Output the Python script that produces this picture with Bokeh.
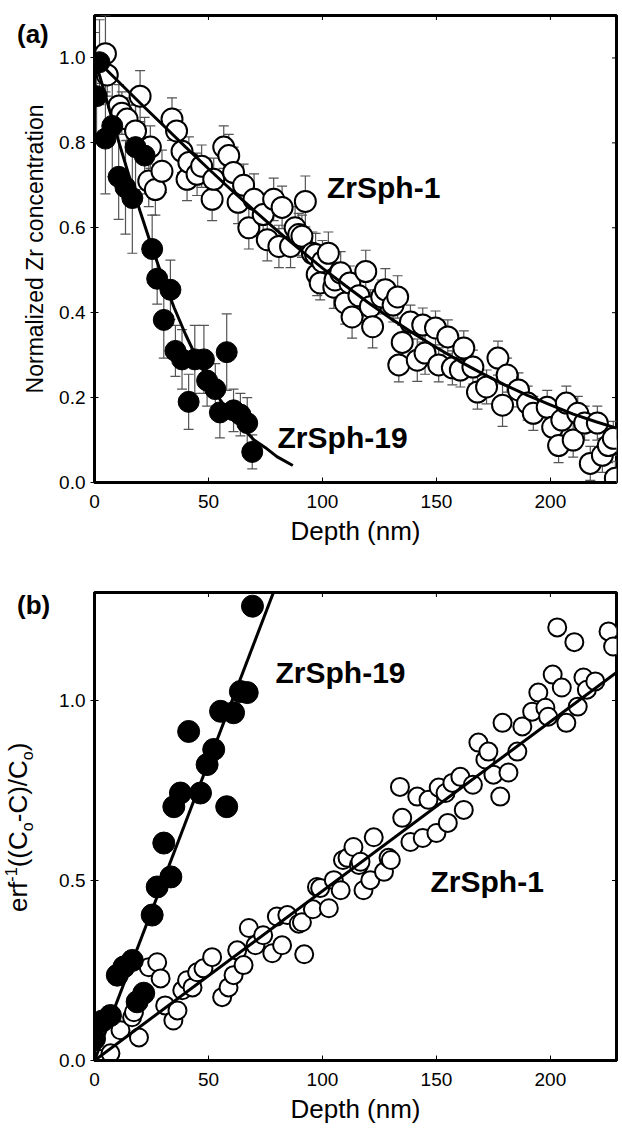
import math
from bokeh.plotting import figure
from bokeh.layouts import column
from bokeh.models import (ColumnDataSource, Whisker, TeeHead, Label, Div,
                          Range1d, FixedTicker, NumeralTickFormatter)
from bokeh.embed import file_html
from bokeh.resources import INLINE

# ---------------- Panel (a): normalized Zr concentration vs depth ----------------
a1_depth = [0, 4.8, 5.6, 10.7, 12, 14.3, 18, 20, 23.8, 24.5,
            26.7, 29.6, 34, 36, 38.4, 40.6, 41.4, 45, 47, 51.6,
            52.3, 56.7, 58.9, 61, 63, 65.4, 67.7, 70, 74, 75.8,
            78.6, 80.9, 82.3, 86, 88, 89.6, 91, 92.5, 95.6, 97,
            97.7, 99, 100, 102.6, 105, 105.5, 108, 110, 112, 113,
            116, 119, 121, 122, 126, 127.6, 131, 133, 133.5, 135,
            138.6, 141.6, 144, 145, 149.6, 151, 155, 157, 160.5, 162,
            166, 168, 172, 177, 179, 181, 186, 190, 192.5, 198.6,
            201, 203.6, 205, 207, 210, 212, 215, 217.5, 220.6, 222.8,
            225.4, 227.6, 228.5]
a1_conc = [1.00, 1.01, 0.96, 0.887, 0.87, 0.856, 0.828, 0.91, 0.71, 0.79,
           0.69, 0.733, 0.856, 0.828, 0.78, 0.714, 0.754, 0.726, 0.745, 0.667,
           0.714, 0.79, 0.77, 0.73, 0.66, 0.70, 0.60, 0.667, 0.631, 0.572,
           0.667, 0.556, 0.648, 0.556, 0.60, 0.584, 0.58, 0.662, 0.54, 0.537,
           0.49, 0.47, 0.52, 0.54, 0.46, 0.477, 0.494, 0.423, 0.47, 0.39,
           0.44, 0.497, 0.414, 0.367, 0.437, 0.454, 0.418, 0.437, 0.277, 0.33,
           0.378, 0.288, 0.371, 0.305, 0.364, 0.277, 0.343, 0.27, 0.265, 0.317,
           0.272, 0.213, 0.225, 0.293, 0.182, 0.253, 0.218, 0.187, 0.163, 0.177,
           0.13, 0.087, 0.147, 0.187, 0.10, 0.163, 0.14, 0.045, 0.14, 0.064,
           0.087, 0.104, 0.01]
a1_err = [0.06, 0.09, 0.05, 0.05, 0.05, 0.05, 0.06, 0.06, 0.06, 0.05,
          0.06, 0.05, 0.05, 0.05, 0.05, 0.05, 0.06, 0.05, 0.05, 0.05,
          0.05, 0.05, 0.05, 0.06, 0.05, 0.05, 0.05, 0.06, 0.05, 0.05,
          0.05, 0.05, 0.05, 0.05, 0.05, 0.05, 0.05, 0.06, 0.05, 0.05,
          0.05, 0.04, 0.05, 0.05, 0.05, 0.04, 0.05, 0.05, 0.04, 0.05,
          0.05, 0.05, 0.04, 0.05, 0.04, 0.05, 0.04, 0.05, 0.04, 0.04,
          0.04, 0.05, 0.04, 0.05, 0.04, 0.04, 0.04, 0.04, 0.04, 0.04,
          0.04, 0.04, 0.04, 0.04, 0.05, 0.04, 0.04, 0.04, 0.04, 0.04,
          0.04, 0.04, 0.04, 0.04, 0.04, 0.04, 0.04, 0.04, 0.04, 0.04,
          0.04, 0.04, 0.04]

a19_depth = [0.9, 2.2, 4.8, 7.8, 10.6, 13.6, 16.6, 18, 22, 25.3,
             27.5, 30.4, 33.3, 35.5, 38.4, 41.3, 44, 48, 49.4, 53,
             55, 58, 61, 64, 67, 69.2]
a19_conc = [0.91, 0.99, 0.81, 0.84, 0.72, 0.695, 0.67, 0.79, 0.77, 0.55,
            0.48, 0.383, 0.454, 0.31, 0.29, 0.19, 0.29, 0.29, 0.24, 0.22,
            0.165, 0.307, 0.17, 0.16, 0.14, 0.072]
a19_err = [0.10, 0.10, 0.13, 0.12, 0.10, 0.11, 0.13, 0.10, 0.09, 0.08,
           0.06, 0.09, 0.07, 0.06, 0.07, 0.065, 0.08, 0.08, 0.06, 0.06,
           0.06, 0.09, 0.05, 0.05, 0.06, 0.04]

fit1_depth = [0, 10, 20, 30, 40, 50, 60, 70, 80, 90, 100, 110, 120, 130,
              140, 150, 160, 170, 180, 190, 200, 210, 220, 229]
fit1_conc = [1.0, 0.947, 0.894, 0.842, 0.790, 0.739, 0.689, 0.641, 0.594, 0.549,
             0.505, 0.464, 0.424, 0.386, 0.351, 0.318, 0.286, 0.257, 0.230, 0.205,
             0.183, 0.161, 0.143, 0.128]
fit19_depth = [0, 5, 10, 15, 20, 25, 30, 35, 40, 45, 50, 55, 60, 65, 70, 75, 80, 87]
fit19_conc = [1.0, 0.907, 0.814, 0.725, 0.639, 0.557, 0.481, 0.411, 0.348, 0.291,
              0.240, 0.196, 0.158, 0.128, 0.100, 0.082, 0.061, 0.040]

# ---------------- Panel (b): erf^-1((Co-C)/Co) vs depth ----------------
b1_depth = [1.8, 7, 11.4, 16.5, 17.3, 19.5, 23.8, 27.5, 29, 31,
            34.6, 36.4, 38.5, 40.6, 43, 45, 47.8, 51.6, 56, 58.8,
            61, 62.6, 65.4, 67.7, 70.6, 74, 78, 80, 82.3, 84.6,
            89.6, 91, 92, 95.8, 97.6, 99, 102.8, 105, 108, 109,
            111, 113.6, 116, 116.7, 118, 121, 122.5, 127, 129, 130,
            134, 135, 138.6, 141.6, 144, 146.5, 150, 151, 154, 155,
            157, 160.5, 162, 166, 168.4, 171.5, 172.8, 175, 178, 179,
            181.6, 185.5, 187.7, 192, 194.7, 197.8, 199, 201, 203, 205,
            207, 210.5, 212, 214.5, 216, 219.7, 225.5, 227.5]
b1_erfinv = [0.005, 0.02, 0.084, 0.12, 0.134, 0.064, 0.259, 0.273, 0.228, 0.153,
             0.111, 0.139, 0.195, 0.223, 0.203, 0.245, 0.256, 0.287, 0.176, 0.203,
             0.237, 0.306, 0.265, 0.368, 0.32, 0.348, 0.298, 0.4, 0.32, 0.404,
             0.38, 0.384, 0.295, 0.42, 0.482, 0.479, 0.423, 0.501, 0.473, 0.557,
             0.563, 0.593, 0.543, 0.552, 0.473, 0.501, 0.62, 0.524, 0.563, 0.557,
             0.76, 0.674, 0.607, 0.733, 0.618, 0.724, 0.632, 0.758, 0.743, 0.66,
             0.771, 0.788, 0.696, 0.766, 0.883, 0.836, 0.858, 0.794, 0.733, 0.938,
             0.8, 0.858, 0.928, 0.969, 1.022, 0.98, 0.955, 1.072, 1.203, 1.036,
             0.938, 1.162, 0.983, 1.064, 1.03, 1.053, 1.192, 1.15]

b19_depth = [0, 3.5, 7, 10, 12.9, 16.6, 18.7, 21.6, 25.3, 27.5,
             30.4, 33.5, 34.8, 37.7, 41.3, 46.5, 49.4, 52.3, 55.3, 58,
             61, 64, 67, 69.3]
b19_erfinv = [0.06, 0.11, 0.125, 0.237, 0.26, 0.278, 0.163, 0.187, 0.404, 0.482,
              0.604, 0.51, 0.705, 0.743, 0.914, 0.743, 0.822, 0.864, 0.97, 0.705,
              0.966, 1.025, 1.022, 1.262]

line1_depth = [0, 229]
line1_erfinv = [0.0, 1.078]
line19_depth = [0, 80]
line19_erfinv = [0.0, 1.325]

x_ticks = [0, 50, 100, 150, 200]
ya_ticks = [0.0, 0.2, 0.4, 0.6, 0.8, 1.0]
yb_ticks = [0.0, 0.5, 1.0]

X_MAX = 229
FONT = "Liberation Sans"


def make_fig(height, top, bottom, ymax, yticks):
    p = figure(width=622, height=height, output_backend="svg", toolbar_location=None,
               x_range=Range1d(0, X_MAX), y_range=Range1d(0, ymax),
               min_border_left=94, min_border_right=6,
               min_border_top=top, min_border_bottom=bottom)
    p.xgrid.visible = False
    p.ygrid.visible = False
    p.outline_line_color = "black"
    p.outline_line_width = 3
    p.background_fill_color = "white"
    p.border_fill_color = "white"

    xa = p.xaxis[0]
    xa.ticker = FixedTicker(ticks=x_ticks)
    xa.axis_label = "Depth (nm)"
    xa.major_tick_in = 5
    xa.major_tick_out = 0
    xa.major_label_standoff = 12
    xa.axis_label_standoff = 5
    xa.axis_label_text_font_size = "26px"

    ya = p.yaxis[0]
    ya.ticker = FixedTicker(ticks=yticks)
    ya.formatter = NumeralTickFormatter(format="0.0")
    ya.major_tick_in = 4
    ya.major_tick_out = 4
    ya.major_label_standoff = 5
    ya.axis_label_standoff = 8
    ya.axis_label_text_font_size = "23px"

    for ax in (xa, ya):
        ax.axis_line_width = 3
        ax.axis_line_color = "black"
        ax.major_tick_line_color = "black"
        ax.major_tick_line_width = 1
        ax.minor_tick_line_color = None
        ax.major_label_text_font = FONT
        ax.major_label_text_font_size = "19px"
        ax.major_label_text_color = "black"
        ax.axis_label_text_font = FONT
        ax.axis_label_text_font_style = "normal"
        ax.axis_label_text_color = "black"

    # inward tick marks on the top and right sides of the box (half of each dash is clipped)
    p.scatter(x_ticks, [ymax] * len(x_ticks), marker="dash", size=9, angle=math.pi / 2,
              line_color="black", line_width=1)
    p.scatter([X_MAX] * len(yticks), yticks, marker="dash", size=9,
              line_color="black", line_width=1)
    return p


# ----- panel (a)
A_YMAX = 1.1
pa = make_fig(565, 15, 83, A_YMAX, ya_ticks)
pa.yaxis[0].axis_label = "Normalized Zr concentration"

s1 = ColumnDataSource(dict(x=a1_depth, y=a1_conc,
                           lo=[c - e for c, e in zip(a1_conc, a1_err)],
                           hi=[c + e for c, e in zip(a1_conc, a1_err)]))
s19 = ColumnDataSource(dict(x=a19_depth, y=a19_conc,
                            lo=[c - e for c, e in zip(a19_conc, a19_err)],
                            hi=[c + e for c, e in zip(a19_conc, a19_err)]))

for src in (s1, s19):
    w = Whisker(source=src, base="x", lower="lo", upper="hi", level="underlay",
                line_color="#555555", line_width=1.2,
                upper_head=TeeHead(size=10, line_color="#555555", line_width=1.2),
                lower_head=TeeHead(size=10, line_color="#555555", line_width=1.2))
    pa.add_layout(w)

pa.scatter("x", "y", source=s1, marker="circle", size=21, fill_color="white",
           line_color="black", line_width=2)
pa.line(fit1_depth, fit1_conc, line_color="black", line_width=3)
pa.scatter("x", "y", source=s19, marker="circle", size=21, fill_color="black",
           line_color="black", line_width=1)
pa.line(fit19_depth, fit19_conc, line_color="black", line_width=3)

pa.add_layout(Label(x=102, y=0.695, text="ZrSph-1", text_font=FONT, text_font_size="30px",
                    text_font_style="bold", text_baseline="alphabetic", text_color="black"))
pa.add_layout(Label(x=80.3, y=0.106, text="ZrSph-19", text_font=FONT, text_font_size="30px",
                    text_font_style="bold", text_baseline="alphabetic", text_color="black"))

# ----- panel (b)
B_YMAX = 1.3
pb = make_fig(564, 27, 69, B_YMAX, yb_ticks)

pb.scatter(b1_depth, b1_erfinv, marker="circle", size=18, fill_color="white",
           line_color="black", line_width=2)
pb.line(line1_depth, line1_erfinv, line_color="black", line_width=3)
pb.scatter(b19_depth, b19_erfinv, marker="circle", size=22, fill_color="black",
           line_color="black", line_width=1)
pb.line(line19_depth, line19_erfinv, line_color="black", line_width=3)

pb.add_layout(Label(x=79.4, y=1.078, text="ZrSph-19", text_font=FONT, text_font_size="30px",
                    text_font_style="bold", text_baseline="alphabetic", text_color="black"))
pb.add_layout(Label(x=147.4, y=0.496, text="ZrSph-1", text_font=FONT, text_font_size="30px",
                    text_font_style="bold", text_baseline="alphabetic", text_color="black"))


# ----- panel tags and the y title of panel (b), placed over the page
def tag(text, left, top):
    return Div(text=text, styles={"position": "absolute", "left": f"{left}px", "top": f"{top}px",
                                  "font-family": FONT, "font-size": "26px",
                                  "font-weight": "bold", "z-index": "10", "color": "black",
                                  "white-space": "nowrap"})


tag_a = tag("(a)", 12, 11)
tag_b = tag("(b)", 12, 582)

ylabel_b = Div(
    text='erf<sup style="font-size:62%;line-height:0">-1</sup>((C<sub style="font-size:62%;'
         'line-height:0">o</sub>-C)/C<sub style="font-size:62%;line-height:0">o</sub>)',
    styles={"position": "absolute", "left": "0px", "top": "907px",
            "transform": "rotate(-90deg)", "transform-origin": "0 0",
            "font-family": FONT, "font-size": "26px", "line-height": "1",
            "z-index": "10", "color": "black", "white-space": "nowrap"})

layout = column(pa, pb, tag_a, tag_b, ylabel_b, spacing=0)
open("out.html", "w").write(file_html(layout, INLINE))
